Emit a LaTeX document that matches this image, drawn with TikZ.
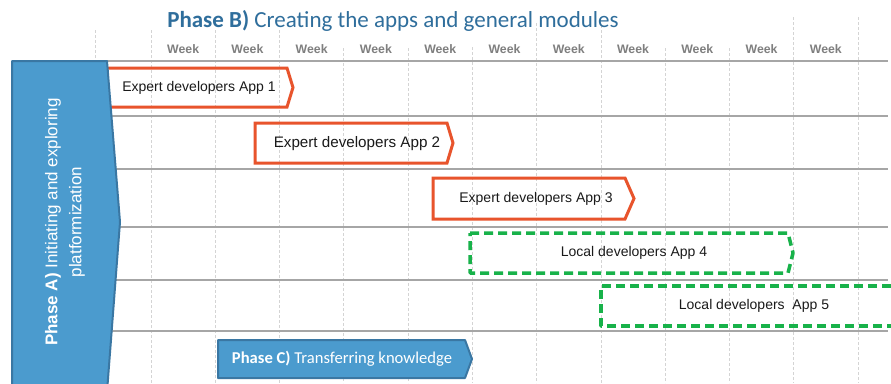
\documentclass[tikz,border=0pt]{standalone}
\usepackage{fontspec}
\setmainfont{Liberation Sans}
\newfontfamily\calib{Carlito}
\definecolor{gridc}{HTML}{D4D4D4}
\definecolor{hlinec}{HTML}{A6A6A6}
\definecolor{orangec}{HTML}{E8542C}
\definecolor{greenc}{HTML}{18B24A}
\definecolor{bluefill}{HTML}{4B9BCE}
\definecolor{bluedraw}{HTML}{3A77A3}
\definecolor{titlec}{HTML}{2F6E9C}
\definecolor{weekc}{HTML}{7F7F7F}
\definecolor{txtc}{HTML}{1A1A1A}
\begin{document}
\begin{tikzpicture}[x=1pt,y=-1pt,
  gridline/.style={draw=gridc,line width=0.8pt,dash pattern=on 3pt off 2pt},
  hline/.style={draw=hlinec,line width=1.5pt},
  week/.style={font=\fontsize{12.3}{14}\selectfont\bfseries,text=weekc,inner sep=0pt},
  expert/.style={draw=orangec,line width=3pt,line join=miter},
  local/.style={draw=greenc,line width=3.5pt,dash pattern=on 9pt off 5pt,line join=round},
  apptext/.style={font=\fontsize{14}{16}\selectfont,text=txtc,inner sep=0pt},
  phasebox/.style={fill=bluefill,draw=bluedraw,line width=2pt,line join=round},
]
\useasboundingbox[fill=white] (0,0) rectangle (891,383);
% vertical dashed grid
\foreach \x/\s in {95/30,151/30,215.3/30,279.5/30,343.8/48,408.1/48,472.4/47,536.6/23,600.9/25,665.2/48,729.5/48,793.7/17,858/17}
  \draw[gridline] (\x,\s) -- (\x,383);
% horizontal lines
\foreach \y in {61,116,169,227,280,331}
  \draw[hline] (100,\y) -- (888,\y);
% title
\node[font=\calib\fontsize{23}{26}\selectfont,text=titlec,inner sep=0pt,anchor=base] (title) at (393,27) {\textbf{Phase B)} Creating the apps and general modules};
% week labels
\foreach \i in {0,...,10}
  \node[week] (w\i) at ({151+64.27*(\i+0.5)},49) {Week};
% expert boxes
\draw[expert] (100,68) -- (287,68) -- (293,87.5) -- (287,107) -- (100,107) -- cycle;
\node[apptext] (a1) at (199,87.5) {Expert developers App 1};
\draw[expert] (255,123) -- (447,123) -- (453,143) -- (447,163) -- (255,163) -- cycle;
\node[apptext,font=\fontsize{15.2}{17}\selectfont] (a2) at (357,144) {Expert developers App 2};
\draw[expert] (433,178) -- (625,178) -- (634,198.5) -- (625,219) -- (433,219) -- cycle;
\node[apptext] (a3) at (536,198.5) {Expert developers App 3};
% local boxes
\draw[local] (470,233) -- (788,233) -- (793,253) -- (788,273) -- (470,273) -- cycle;
\node[apptext] (a4) at (634,253) {Local developers App 4};
\draw[local] (905,286) -- (601,286) -- (601,326) -- (905,326);
\node[apptext] (a5) at (754,306) {Local developers\ \ App 5};
% phase C
\draw[phasebox] (218,340) -- (465,340) -- (472,359) -- (465,378) -- (218,378) -- cycle;
\node[font=\calib\fontsize{16.6}{19}\selectfont,text=white,inner sep=0pt] (pc) at (342,359) {\textbf{Phase C)} Transferring knowledge};
% phase A
\draw[phasebox] (12,61) -- (107,61) -- (120,222) -- (107,392) -- (12,392) -- cycle;
\node[font=\fontsize{17}{24}\selectfont,text=white,rotate=90,align=center,inner sep=0pt] (pa) at (65,222) {\textbf{Phase A)} Initiating and exploring\\platformization};
\end{tikzpicture}
\end{document}
